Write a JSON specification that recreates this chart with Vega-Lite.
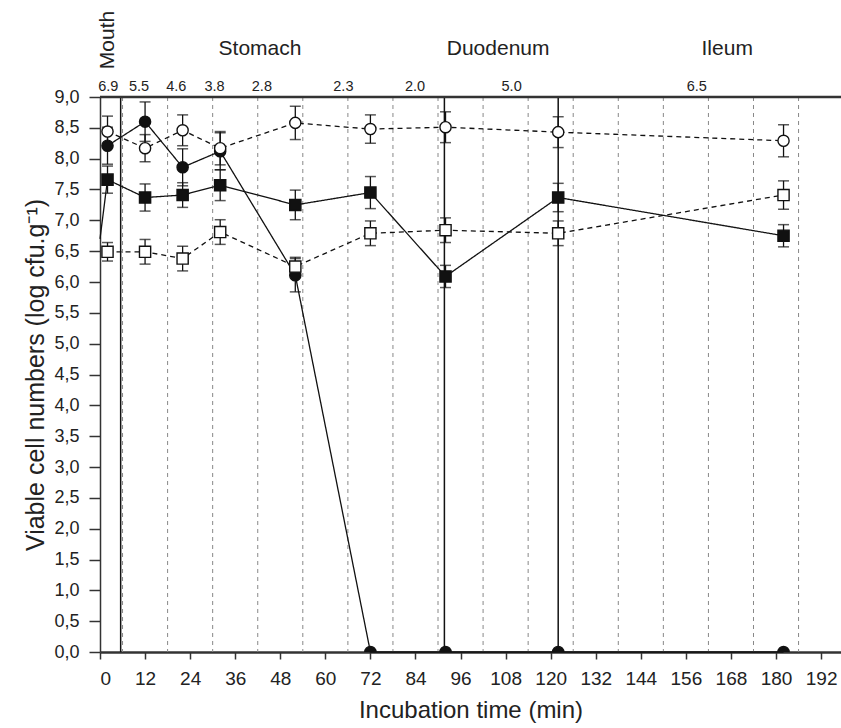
{
  "$schema": "https://vega.github.io/schema/vega-lite/v6.json",
  "width": 741,
  "height": 555,
  "autosize": {"type": "none"},
  "padding": {"left": 100, "top": 97, "right": 0, "bottom": 76},
  "background": "white",
  "config": {
    "font": "Liberation Sans",
    "view": {"stroke": null},
    "axis": {"grid": false, "labelColor": "#222", "titleColor": "#222", "domainColor": "#333", "tickColor": "#333", "titleFontWeight": "normal", "labelOverlap": false, "labelSeparation": 0},
    "axisY": {"labelOverlap": false}
  },
  "datasets": {
    "obs": [
      {"series": "filled circle", "t": 2, "v": 8.21, "lo": 7.91, "hi": 8.51},
      {"series": "filled circle", "t": 12, "v": 8.6, "lo": 8.28, "hi": 8.92},
      {"series": "filled circle", "t": 22, "v": 7.86, "lo": 7.56, "hi": 8.16},
      {"series": "filled circle", "t": 32, "v": 8.12, "lo": 7.82, "hi": 8.42},
      {"series": "filled circle", "t": 52, "v": 6.11, "lo": 5.84, "hi": 6.38},
      {"series": "filled circle", "t": 72, "v": 0, "lo": 0, "hi": 0},
      {"series": "filled circle", "t": 92, "v": 0, "lo": 0, "hi": 0},
      {"series": "filled circle", "t": 122, "v": 0, "lo": 0, "hi": 0},
      {"series": "filled circle", "t": 182, "v": 0, "lo": 0, "hi": 0},
      {"series": "open circle", "t": 2, "v": 8.44, "lo": 8.19, "hi": 8.69},
      {"series": "open circle", "t": 12, "v": 8.17, "lo": 7.95, "hi": 8.39},
      {"series": "open circle", "t": 22, "v": 8.46, "lo": 8.21, "hi": 8.71},
      {"series": "open circle", "t": 32, "v": 8.17, "lo": 7.9, "hi": 8.44},
      {"series": "open circle", "t": 52, "v": 8.58, "lo": 8.31, "hi": 8.85},
      {"series": "open circle", "t": 72, "v": 8.48, "lo": 8.25, "hi": 8.71},
      {"series": "open circle", "t": 92, "v": 8.51, "lo": 8.26, "hi": 8.76},
      {"series": "open circle", "t": 122, "v": 8.43, "lo": 8.18, "hi": 8.68},
      {"series": "open circle", "t": 182, "v": 8.29, "lo": 8.03, "hi": 8.55},
      {"series": "filled square", "t": 0, "v": 6.7, "lo": 6.7, "hi": 6.7},
      {"series": "filled square", "t": 2, "v": 7.66, "lo": 7.44, "hi": 7.88},
      {"series": "filled square", "t": 12, "v": 7.37, "lo": 7.15, "hi": 7.59},
      {"series": "filled square", "t": 22, "v": 7.41, "lo": 7.21, "hi": 7.61},
      {"series": "filled square", "t": 32, "v": 7.57, "lo": 7.32, "hi": 7.82},
      {"series": "filled square", "t": 52, "v": 7.25, "lo": 7.01, "hi": 7.49},
      {"series": "filled square", "t": 72, "v": 7.45, "lo": 7.19, "hi": 7.71},
      {"series": "filled square", "t": 92, "v": 6.09, "lo": 5.91, "hi": 6.27},
      {"series": "filled square", "t": 122, "v": 7.37, "lo": 7.14, "hi": 7.6},
      {"series": "filled square", "t": 182, "v": 6.75, "lo": 6.57, "hi": 6.93},
      {"series": "open square", "t": 2, "v": 6.49, "lo": 6.34, "hi": 6.64},
      {"series": "open square", "t": 12, "v": 6.49, "lo": 6.29, "hi": 6.69},
      {"series": "open square", "t": 22, "v": 6.38, "lo": 6.18, "hi": 6.58},
      {"series": "open square", "t": 32, "v": 6.81, "lo": 6.61, "hi": 7.01},
      {"series": "open square", "t": 52, "v": 6.25, "lo": 6.1, "hi": 6.4},
      {"series": "open square", "t": 72, "v": 6.79, "lo": 6.59, "hi": 6.99},
      {"series": "open square", "t": 92, "v": 6.84, "lo": 6.64, "hi": 7.04},
      {"series": "open square", "t": 122, "v": 6.79, "lo": 6.59, "hi": 6.99},
      {"series": "open square", "t": 182, "v": 7.41, "lo": 7.18, "hi": 7.64}
    ],
    "grid": [
      {"t": 6}, {"t": 18}, {"t": 30}, {"t": 42}, {"t": 54}, {"t": 66}, {"t": 78}, {"t": 90},
      {"t": 102}, {"t": 114}, {"t": 126}, {"t": 138}, {"t": 150}, {"t": 162}, {"t": 174}, {"t": 186}
    ],
    "phases": [{"t": 5.5}, {"t": 91.7}, {"t": 122}],
    "yminor": [
      {"v": 0.25}, {"v": 0.75}, {"v": 1.25}, {"v": 1.75}, {"v": 2.25}, {"v": 2.75}, {"v": 3.25}, {"v": 3.75}, {"v": 4.25},
      {"v": 4.75}, {"v": 5.25}, {"v": 5.75}, {"v": 6.25}, {"v": 6.75}, {"v": 7.25}, {"v": 7.75}, {"v": 8.25}, {"v": 8.75}
    ],
    "ph": [
      {"t": 2.2, "ph": "6.9"}, {"t": 10.4, "ph": "5.5"}, {"t": 20.3, "ph": "4.6"}, {"t": 30.5, "ph": "3.8"},
      {"t": 43.1, "ph": "2.8"}, {"t": 64.8, "ph": "2.3"}, {"t": 83.9, "ph": "2.0"}, {"t": 109.6, "ph": "5.0"},
      {"t": 158.9, "ph": "6.5"}
    ],
    "regions": [
      {"t": 42.6, "region": "Stomach"}, {"t": 106, "region": "Duodenum"}, {"t": 167, "region": "Ileum"}
    ],
    "mouth": [{"t": 2.1, "region": "Mouth"}]
  },
  "encoding": {
    "x": {
      "field": "t", "type": "quantitative",
      "scale": {"domain": [0, 197.3], "nice": false, "zero": false},
      "axis": {
        "title": "Incubation time (min)",
        "values": [0, 12, 24, 36, 48, 60, 72, 84, 96, 108, 120, 132, 144, 156, 168, 180, 192],
        "labelOverlap": false,
        "domainWidth": 2.5, "tickSize": 7, "tickWidth": 1.5,
        "labelFontSize": 19, "labelPadding": 10, "titleFontSize": 24, "titlePadding": 10
      }
    }
  },
  "layer": [
    {
      "data": {"name": "grid"},
      "mark": {"type": "rule", "color": "#888", "strokeWidth": 1, "strokeDash": [4, 4]},
      "encoding": {}
    },
    {
      "data": {"name": "phases"},
      "mark": {"type": "rule", "color": "#111", "strokeWidth": 1.5},
      "encoding": {}
    },
    {
      "data": {"name": "obs"},
      "mark": {"type": "point", "opacity": 0, "size": 1},
      "encoding": {
        "y": {
          "field": "v", "type": "quantitative",
          "scale": {"domain": [0, 9], "nice": false},
          "axis": {
            "title": "Viable cell numbers (log cfu.g⁻¹)",
            "values": [0, 0.5, 1, 1.5, 2, 2.5, 3, 3.5, 4, 4.5, 5, 5.5, 6, 6.5, 7, 7.5, 8, 8.5, 9],
            "tickCount": 19,
            "labelExpr": "replace(format(datum.value, '.1f'), '.', ',')",
            "labelOverlap": false,
            "labelSeparation": 0,
            "domainWidth": 1.5, "tickSize": 11, "tickWidth": 1.5,
            "labelFontSize": 18, "labelPadding": 10, "titleFontSize": 25, "titlePadding": 5
          }
        }
      }
    },
    {
      "data": {"values": [{"v": 9}]},
      "mark": {"type": "rule", "color": "#333", "strokeWidth": 2.5},
      "encoding": {
        "x": null,
        "y": {"field": "v", "type": "quantitative", "scale": {"domain": [0, 9], "nice": false}}
      }
    },
    {
      "data": {"name": "yminor"},
      "mark": {"type": "tick", "orient": "horizontal", "color": "#333", "size": 8, "thickness": 1.3, "xOffset": -4},
      "encoding": {
        "x": {"datum": 0},
        "y": {"field": "v", "type": "quantitative", "scale": {"domain": [0, 9], "nice": false}}
      }
    },
    {
      "data": {"name": "obs"},
      "transform": [{"filter": "datum.hi > datum.lo"}],
      "mark": {"type": "rule", "color": "#111", "strokeWidth": 1.3},
      "encoding": {
        "y": {"field": "lo", "type": "quantitative", "scale": {"domain": [0, 9], "nice": false}, "title": "Viable cell numbers (log cfu.g⁻¹)"},
        "y2": {"field": "hi"}
      }
    },
    {
      "data": {"name": "obs"},
      "transform": [{"filter": "datum.hi > datum.lo"}],
      "mark": {"type": "tick", "orient": "horizontal", "color": "#111", "size": 11, "thickness": 1.5},
      "encoding": {
        "y": {"field": "lo", "type": "quantitative", "scale": {"domain": [0, 9], "nice": false}, "title": "Viable cell numbers (log cfu.g⁻¹)"}
      }
    },
    {
      "data": {"name": "obs"},
      "transform": [{"filter": "datum.hi > datum.lo"}],
      "mark": {"type": "tick", "orient": "horizontal", "color": "#111", "size": 11, "thickness": 1.5},
      "encoding": {
        "y": {"field": "hi", "type": "quantitative", "scale": {"domain": [0, 9], "nice": false}, "title": "Viable cell numbers (log cfu.g⁻¹)"}
      }
    },
    {
      "data": {"name": "obs"},
      "mark": {"type": "line", "color": "#111", "strokeWidth": 1.3},
      "encoding": {
        "y": {"field": "v", "type": "quantitative", "scale": {"domain": [0, 9], "nice": false}},
        "detail": {"field": "series"},
        "strokeDash": {
          "field": "series", "type": "nominal",
          "scale": {"domain": ["filled circle", "filled square", "open circle", "open square"], "range": [[1, 0], [1, 0], [5, 4], [5, 4]]},
          "legend": null
        },
        "order": {"field": "t", "type": "quantitative"}
      }
    },
    {
      "data": {"name": "obs"},
      "transform": [{"filter": "datum.t > 0"}],
      "mark": {"type": "point", "filled": true, "opacity": 1, "stroke": "#111", "strokeWidth": 1.4, "size": 125, "clip": true},
      "encoding": {
        "y": {"field": "v", "type": "quantitative", "scale": {"domain": [0, 9], "nice": false}},
        "shape": {
          "field": "series", "type": "nominal",
          "scale": {"domain": ["filled circle", "filled square", "open circle", "open square"], "range": ["circle", "square", "circle", "square"]},
          "legend": null
        },
        "fill": {
          "field": "series", "type": "nominal",
          "scale": {"domain": ["filled circle", "filled square", "open circle", "open square"], "range": ["#111", "#111", "white", "white"]},
          "legend": null
        }
      }
    },
    {
      "data": {"name": "ph"},
      "mark": {"type": "text", "fontSize": 14.5, "color": "#222", "baseline": "bottom", "dy": -3},
      "encoding": {"y": {"datum": 9}, "text": {"field": "ph"}}
    },
    {
      "data": {"name": "regions"},
      "mark": {"type": "text", "fontSize": 21, "color": "#222", "baseline": "middle", "dy": -48},
      "encoding": {"y": {"datum": 9}, "text": {"field": "region"}}
    },
    {
      "data": {"name": "mouth"},
      "mark": {"type": "text", "fontSize": 21, "color": "#222", "baseline": "middle", "align": "center", "angle": 270, "dx": 57},
      "encoding": {"y": {"datum": 9}, "text": {"field": "region"}}
    }
  ]
}
